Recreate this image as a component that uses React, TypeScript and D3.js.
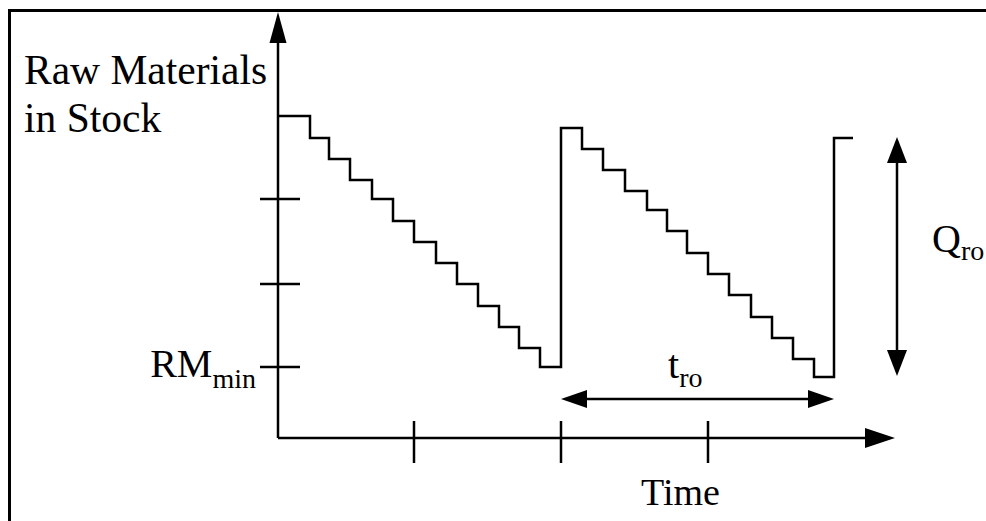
import * as d3 from 'd3';

// stock level over time (abstract units, time 0 = y axis, level 0 = time axis)
const stepTimes = [0, 32, 51, 72, 94, 115, 136, 158, 179, 200, 221, 241, 262, 283, 304, 325, 347, 369, 389, 409, 430, 451, 473, 494, 515, 536, 556, 575];
const stepLevels = [322, 300, 279, 258, 239, 217, 196, 175, 154, 132, 111, 90, 71, 310, 289, 268, 247, 228, 207, 185, 164, 143, 121, 100, 79, 61, 300, 300];

const xTicks = [136, 283, 430];
const yTicks = [239, 154, 71];
const rmMin = 71;

// reorder interval and quantity markers
const troSpan = [283, 556];
const qroTime = 619;
const qroSpan = [62, 301];

const W = 986;
const H = 521;

const x = d3.scaleLinear().domain([0, 617]).range([278, 895]);
const y = d3.scaleLinear().domain([0, 426]).range([438, 12]);

const font = '"Liberation Serif", "DejaVu Serif", "Times New Roman", Times, serif';
const sw = 2.5;

function arrowHead(tx: number, ty: number, dir: 'up' | 'down' | 'left' | 'right', len: number, half: number) {
  let pts: [number, number][] = [];
  if (dir === 'up') pts = [[tx, ty], [tx - half, ty + len], [tx + half, ty + len]];
  if (dir === 'down') pts = [[tx, ty], [tx - half, ty - len], [tx + half, ty - len]];
  if (dir === 'right') pts = [[tx, ty], [tx - len, ty - half], [tx - len, ty + half]];
  if (dir === 'left') pts = [[tx, ty], [tx + len, ty - half], [tx + len, ty + half]];
  return <polygon points={pts.map((p) => p.join(',')).join(' ')} fill="#000" />;
}

export default function App() {
  const points = stepTimes.map((t, i) => [t, stepLevels[i]] as [number, number]);
  const line = d3
    .line<[number, number]>()
    .x((d) => x(d[0]))
    .y((d) => y(d[1]))
    .curve(d3.curveStepAfter);

  const x0 = x(0);
  const y0 = y(0);
  const txt = { fontFamily: font };

  return (
    <svg
      width={W}
      height={H}
      style={{ position: 'absolute', left: 0, top: 0, background: '#fff' }}
    >
      {/* frame */}
      <rect x={9.5} y={10.5} width={W + 20} height={H + 20} fill="none" stroke="#000" strokeWidth={3} />

      {/* y axis */}
      <line x1={x0} y1={y0} x2={x0} y2={y(400)} stroke="#000" strokeWidth={sw} />
      {arrowHead(x0, y(426), 'up', 31, 8.5)}
      {yTicks.map((v) => (
        <line key={v} x1={x0 - 18} x2={x0 + 22} y1={y(v)} y2={y(v)} stroke="#000" strokeWidth={sw} />
      ))}

      {/* x axis */}
      <line x1={x0} y1={y0} x2={x(595)} y2={y0} stroke="#000" strokeWidth={sw} />
      {arrowHead(x(617), y0, 'right', 30, 10)}
      {xTicks.map((v) => (
        <line key={v} x1={x(v)} x2={x(v)} y1={y0 - 17} y2={y0 + 25} stroke="#000" strokeWidth={sw} />
      ))}

      {/* stock */}
      <path d={line(points) ?? ''} fill="none" stroke="#000" strokeWidth={sw} />

      {/* t_ro */}
      <line x1={x(troSpan[0]) + 10} x2={x(troSpan[1]) - 10} y1={399} y2={399} stroke="#000" strokeWidth={sw} />
      {arrowHead(x(troSpan[0]), 399, 'left', 26, 9)}
      {arrowHead(x(troSpan[1]), 399, 'right', 26, 9)}

      {/* Q_ro */}
      <line x1={x(qroTime)} x2={x(qroTime)} y1={y(qroSpan[1]) + 10} y2={y(qroSpan[0]) - 10} stroke="#000" strokeWidth={sw} />
      {arrowHead(x(qroTime), y(qroSpan[1]), 'up', 26, 10)}
      {arrowHead(x(qroTime), y(qroSpan[0]), 'down', 26, 10)}

      {/* labels */}
      <text x={24} y={84} fontSize={41.5} style={txt}>Raw Materials</text>
      <text x={24} y={132} fontSize={41.5} style={txt}>in Stock</text>
      <text x={256} y={y(rmMin) + 10} fontSize={40} textAnchor="end" style={txt}>
        RM<tspan fontSize={28} dy={11}>min</tspan>
      </text>
      <text x={668} y={378} fontSize={40} style={txt}>
        t<tspan fontSize={28} dy={9}>ro</tspan>
      </text>
      <text x={932} y={252} fontSize={40} style={txt}>
        Q<tspan fontSize={28} dy={8}>ro</tspan>
      </text>
      <text x={641} y={505} fontSize={38} style={txt}>Time</text>
    </svg>
  );
}
